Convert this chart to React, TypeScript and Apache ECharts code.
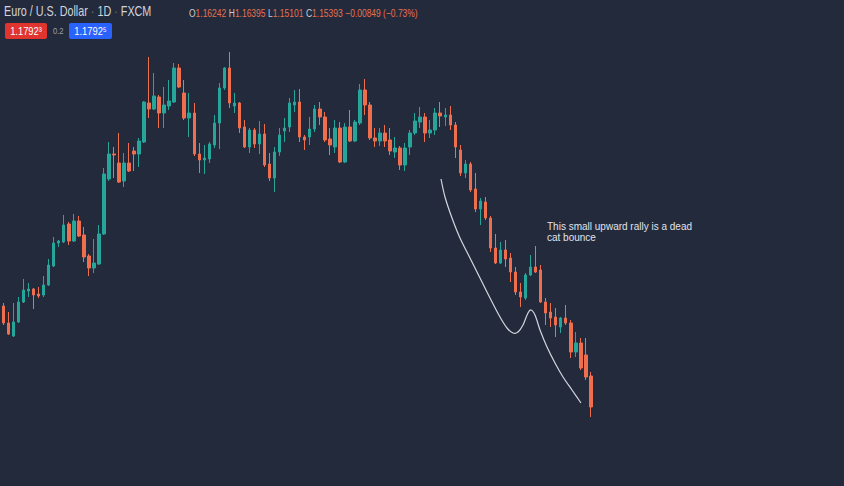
import React, { useEffect, useRef } from 'react';
import * as echarts from 'echarts';

// [open, close, low, high]
const candles: number[][] = [
  [1.1741, 1.1707, 1.1703, 1.1747],
  [1.1707, 1.1685, 1.1683, 1.1729],
  [1.1681, 1.1709, 1.1679, 1.1747],
  [1.1709, 1.1749, 1.1707, 1.1759],
  [1.1749, 1.1773, 1.1747, 1.1795],
  [1.1771, 1.1775, 1.1759, 1.1787],
  [1.1775, 1.1763, 1.1735, 1.1777],
  [1.1765, 1.1761, 1.1757, 1.1779],
  [1.1763, 1.1783, 1.1759, 1.1801],
  [1.1783, 1.1823, 1.1781, 1.1835],
  [1.1821, 1.1867, 1.1819, 1.1879],
  [1.1867, 1.1871, 1.1859, 1.1873],
  [1.1869, 1.1903, 1.1867, 1.1923],
  [1.1905, 1.1871, 1.1863, 1.1909],
  [1.1871, 1.1911, 1.1869, 1.1925],
  [1.1911, 1.1881, 1.1879, 1.1921],
  [1.1883, 1.1839, 1.1829, 1.1899],
  [1.1841, 1.1817, 1.1801, 1.1845],
  [1.1817, 1.1827, 1.1807, 1.1875],
  [1.1825, 1.1885, 1.1823, 1.1903],
  [1.1885, 1.2005, 1.1883, 1.2017],
  [1.1995, 1.2045, 1.1991, 1.2069],
  [1.2045, 1.2043, 1.1997, 1.2059],
  [1.2027, 1.1989, 1.1987, 1.2087],
  [1.1991, 1.2027, 1.1979, 1.2047],
  [1.2027, 1.2011, 1.2009, 1.2067],
  [1.2051, 1.2045, 1.2011, 1.2059],
  [1.2045, 1.2071, 1.2019, 1.2077],
  [1.2069, 1.2149, 1.2067, 1.2151],
  [1.2147, 1.2135, 1.2117, 1.2239],
  [1.2135, 1.2161, 1.2133, 1.2207],
  [1.2159, 1.2127, 1.2097, 1.2163],
  [1.2127, 1.2143, 1.2097, 1.2179],
  [1.2141, 1.2151, 1.2133, 1.2193],
  [1.2149, 1.2217, 1.2147, 1.2227],
  [1.2217, 1.2179, 1.2177, 1.2225],
  [1.2167, 1.2117, 1.2113, 1.2193],
  [1.2117, 1.2127, 1.2079, 1.2167],
  [1.2127, 1.2045, 1.2041, 1.2147],
  [1.2045, 1.2033, 1.2007, 1.2067],
  [1.2033, 1.2037, 1.2005, 1.2063],
  [1.2035, 1.2065, 1.2027, 1.2069],
  [1.2063, 1.2107, 1.2057, 1.2123],
  [1.2107, 1.2177, 1.2055, 1.2187],
  [1.2177, 1.2217, 1.2173, 1.2219],
  [1.2217, 1.2147, 1.2137, 1.2249],
  [1.2141, 1.2147, 1.2127, 1.2167],
  [1.2147, 1.2097, 1.2087, 1.2149],
  [1.2099, 1.2059, 1.2057, 1.2113],
  [1.2059, 1.2093, 1.2047, 1.2097],
  [1.2093, 1.2065, 1.2057, 1.2097],
  [1.2065, 1.2085, 1.2045, 1.2111],
  [1.2085, 1.2023, 1.2019, 1.2105],
  [1.2025, 1.1997, 1.1991, 1.2047],
  [1.1997, 1.2049, 1.1969, 1.2059],
  [1.2049, 1.2083, 1.2041, 1.2097],
  [1.2091, 1.2097, 1.2069, 1.2117],
  [1.2099, 1.2147, 1.2089, 1.2157],
  [1.2143, 1.2149, 1.2129, 1.2173],
  [1.2149, 1.2079, 1.2069, 1.2175],
  [1.2079, 1.2073, 1.2053, 1.2083],
  [1.2079, 1.2095, 1.2063, 1.2119],
  [1.2095, 1.2135, 1.2089, 1.2143],
  [1.2135, 1.2119, 1.2103, 1.2149],
  [1.2119, 1.2073, 1.2069, 1.2129],
  [1.2075, 1.2063, 1.2043, 1.2097],
  [1.2059, 1.2097, 1.2047, 1.2113],
  [1.2097, 1.2029, 1.2027, 1.2109],
  [1.2029, 1.2099, 1.2027, 1.2107],
  [1.2099, 1.2071, 1.2069, 1.2133],
  [1.2071, 1.2109, 1.2069, 1.2113],
  [1.2107, 1.2173, 1.2103, 1.2185],
  [1.2173, 1.2143, 1.2123, 1.2195],
  [1.2143, 1.2077, 1.2073, 1.2149],
  [1.2077, 1.2071, 1.2059, 1.2097],
  [1.2071, 1.2087, 1.2061, 1.2097],
  [1.2087, 1.2071, 1.2059, 1.2103],
  [1.2073, 1.2051, 1.2043, 1.2097],
  [1.2049, 1.2057, 1.2037, 1.2079],
  [1.2057, 1.2023, 1.2013, 1.2061],
  [1.2023, 1.2057, 1.2011, 1.2067],
  [1.2059, 1.2087, 1.2043, 1.2093],
  [1.2087, 1.2111, 1.2083, 1.2127],
  [1.2109, 1.2119, 1.2097, 1.2139],
  [1.2119, 1.2087, 1.2069, 1.2127],
  [1.2087, 1.2093, 1.2077, 1.2113],
  [1.2093, 1.2127, 1.2083, 1.2137],
  [1.2127, 1.2121, 1.2099, 1.2149],
  [1.2119, 1.2123, 1.2101, 1.2137],
  [1.2123, 1.2103, 1.2093, 1.2141],
  [1.2103, 1.2059, 1.2037, 1.2109],
  [1.2053, 1.2007, 1.2001, 1.2063],
  [1.2007, 1.2025, 1.1997, 1.2033],
  [1.2025, 1.1973, 1.1969, 1.2029],
  [1.1975, 1.1935, 1.1929, 1.2007],
  [1.1935, 1.1951, 1.1903, 1.1957],
  [1.1949, 1.1917, 1.1913, 1.1959],
  [1.1917, 1.1857, 1.1849, 1.1921],
  [1.1857, 1.1827, 1.1825, 1.1885],
  [1.1827, 1.1853, 1.1825, 1.1869],
  [1.1853, 1.1835, 1.1819, 1.1873],
  [1.1837, 1.1809, 1.1789, 1.1847],
  [1.1809, 1.1769, 1.1763, 1.1819],
  [1.1769, 1.1759, 1.1739, 1.1787],
  [1.1757, 1.1803, 1.1753, 1.1807],
  [1.1803, 1.1819, 1.1801, 1.1843],
  [1.1819, 1.1809, 1.1807, 1.1861],
  [1.1813, 1.1749, 1.1747, 1.1823],
  [1.1749, 1.1727, 1.1703, 1.1757],
  [1.1729, 1.1717, 1.1699, 1.1747],
  [1.1719, 1.1703, 1.1679, 1.1737],
  [1.1699, 1.1717, 1.1687, 1.1719],
  [1.1717, 1.1707, 1.1703, 1.1743],
  [1.1707, 1.1649, 1.1637, 1.1713],
  [1.1649, 1.1667, 1.1639, 1.1689],
  [1.1667, 1.1617, 1.1613, 1.1677],
  [1.1643, 1.1599, 1.1593, 1.1677],
  [1.1601, 1.1539, 1.1519, 1.1609],
];

const categories: string[] = candles.map((_, i) => 'D' + (i + 1));

const titleText = 'Euro / U.S. Dollar';
const intervalText = '1D';
const sourceText = 'FXCM';
const ohlcLabels = ['O', 'H', 'L', 'C'];
const ohlcValues = ['1.16242', '1.16395', '1.15101', '1.15393'];
const changeText = '\u22120.00849 (\u22120.73%)';
const bidText = '1.1792\u00b3';
const spreadText = '0.2';
const askText = '1.1792\u2075';
const noteText = 'This small upward rally is a dead\ncat bounce';

const UP = '#26a69a';
const DOWN = '#ef6e4e';
const FONT = '"Liberation Sans", Arial, sans-serif';

export default function App() {
  const ref = useRef<HTMLDivElement>(null);

  useEffect(() => {
    if (!ref.current) return;
    const chart = echarts.init(ref.current, null, { renderer: 'svg' });

    const ohlcRich =
      ohlcLabels.map((l, i) => `{l|${l}}{v|${ohlcValues[i]}}`).join(' ') +
      ` {v|${changeText}}`;

    chart.setOption({
      animation: false,
      backgroundColor: '#232a3b',
      grid: { left: 0.99, top: 0, width: 592.36, height: 486 },
      xAxis: {
        type: 'category',
        data: categories,
        show: false,
        boundaryGap: true,
      },
      yAxis: {
        type: 'value',
        min: 1.1381,
        max: 1.2353,
        show: false,
        splitLine: { show: false },
      },
      series: [
        {
          type: 'candlestick',
          data: candles,
          barWidth: 3,
          itemStyle: {
            color: UP,
            color0: DOWN,
            borderColor: UP,
            borderColor0: DOWN,
            borderWidth: 1,
          },
        },
      ],
      graphic: [
        {
          type: 'text',
          x: 4,
          y: 5,
          scaleX: 0.77,
          style: {
            text: `{t|${titleText}}{d| \u00b7 }{t|${intervalText}}{d| \u00b7 }{t|${sourceText}}`,
            rich: {
              t: { fill: '#d1d4dc', fontSize: 14, fontFamily: FONT },
              d: { fill: '#6b7080', fontSize: 14, fontFamily: FONT },
            },
            verticalAlign: 'top',
            align: 'left',
          },
        },
        {
          type: 'text',
          x: 189,
          y: 7,
          scaleX: 0.77,
          style: {
            text: ohlcRich,
            rich: {
              l: { fill: '#c9ccd4', fontSize: 11, fontFamily: FONT },
              v: { fill: '#e8704f', fontSize: 11, fontFamily: FONT },
            },
            verticalAlign: 'top',
            align: 'left',
          },
        },
        {
          type: 'rect',
          shape: { x: 5, y: 23, width: 42, height: 16, r: 2 },
          style: { fill: '#e0342f' },
        },
        {
          type: 'text',
          x: 26,
          y: 31,
          scaleX: 0.85,
          style: {
            text: bidText,
            fill: '#ffffff',
            fontSize: 11,
            fontFamily: FONT,
            align: 'center',
            verticalAlign: 'middle',
          },
        },
        {
          type: 'text',
          x: 53,
          y: 31,
          scaleX: 0.85,
          style: {
            text: spreadText,
            fill: '#9aa0ab',
            fontSize: 9,
            fontFamily: FONT,
            align: 'left',
            verticalAlign: 'middle',
          },
        },
        {
          type: 'rect',
          shape: { x: 69, y: 23, width: 43, height: 16, r: 2 },
          style: { fill: '#2962ff' },
        },
        {
          type: 'text',
          x: 90.5,
          y: 31,
          scaleX: 0.85,
          style: {
            text: askText,
            fill: '#ffffff',
            fontSize: 11,
            fontFamily: FONT,
            align: 'center',
            verticalAlign: 'middle',
          },
        },
        {
          type: 'polyline',
          shape: {
            points: [
              [441, 179], [445, 197], [452, 218], [460, 238], [470, 258],
              [480, 278], [490, 298], [500, 317], [507, 328], [513, 333],
              [518, 332], [523, 325], [528, 313], [531, 310], [535, 315],
              [540, 330], [547, 347], [555, 363], [563, 377], [572, 390],
              [581, 403],
            ],
            smooth: 0.3,
          },
          style: { stroke: '#d3d6dd', lineWidth: 1.2, fill: null },
        },
        {
          type: 'text',
          x: 547,
          y: 221,
          scaleX: 1.0,
          style: {
            text: noteText,
            fill: '#e0e3ea',
            fontSize: 10,
            fontFamily: FONT,
            lineHeight: 11,
            align: 'left',
            verticalAlign: 'top',
          },
        },
      ],
    });

    return () => chart.dispose();
  }, []);

  return (
    <div
      ref={ref}
      style={{ position: 'fixed', left: 0, top: 0, width: 844, height: 486 }}
    />
  );
}
